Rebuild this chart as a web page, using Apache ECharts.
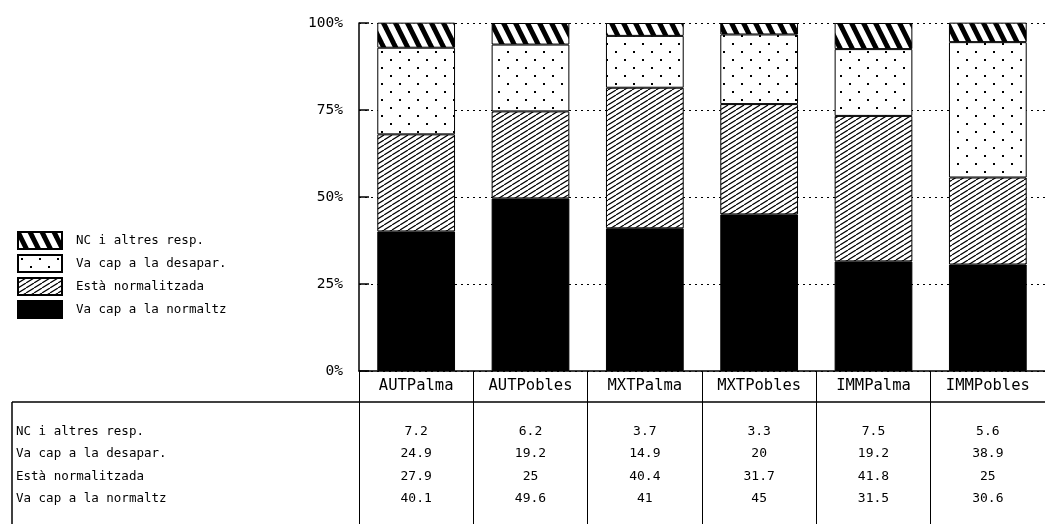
<!DOCTYPE html>
<html>
<head>
<meta charset="utf-8">
<script src="https://cdn.jsdelivr.net/npm/echarts@6/dist/echarts.min.js"></script>
<style>
  html, body { margin: 0; padding: 0; background: #fff; }
  #chart { width: 1045px; height: 524px; }
</style>
</head>
<body>
<div id="chart"></div>
<script>
// ---- data ----
var categories = ['AUTPalma', 'AUTPobles', 'MXTPalma', 'MXTPobles', 'IMMPalma', 'IMMPobles'];
var seriesNames = ['NC i altres resp.', 'Va cap a la desapar.', 'Està normalitzada', 'Va cap a la normaltz'];
var ncValues = [7.2, 6.2, 3.7, 3.3, 7.5, 5.6];
var desaparValues = [24.9, 19.2, 14.9, 20, 19.2, 38.9];
var normalitzadaValues = [27.9, 25, 40.4, 31.7, 41.8, 25];
var normaltzValues = [40.1, 49.6, 41, 45, 31.5, 30.6];
var yTickValues = [0, 25, 50, 75, 100];

var FONT = 'DejaVu Sans Mono';

// ---- fill patterns ----
function makeCanvas(w, h) {
  var c = document.createElement('canvas');
  c.width = w; c.height = h;
  var ctx = c.getContext('2d');
  ctx.fillStyle = '#fff';
  ctx.fillRect(0, 0, w, h);
  return { c: c, ctx: ctx };
}
function stripePattern() {
  var o = makeCanvas(12, 24), ctx = o.ctx;
  ctx.strokeStyle = '#000'; ctx.lineWidth = 5;
  [-12, 0, 12].forEach(function (dx) {
    ctx.beginPath(); ctx.moveTo(dx - 12, -24); ctx.lineTo(dx + 24, 48); ctx.stroke();
  });
  return o.c;
}
function hatchPattern() {
  var o = makeCanvas(8, 5), ctx = o.ctx;
  ctx.strokeStyle = '#000'; ctx.lineWidth = 1.2;
  [-8, 0, 8].forEach(function (dx) {
    ctx.beginPath(); ctx.moveTo(dx, 5); ctx.lineTo(dx + 8, 0); ctx.stroke();
  });
  return o.c;
}
function dotPattern() {
  var o = makeCanvas(18, 16), ctx = o.ctx;
  ctx.fillStyle = '#000';
  ctx.fillRect(3, 3, 2, 2);
  ctx.fillRect(12, 11, 2, 2);
  return o.c;
}

var fills = [
  { image: stripePattern(), repeat: 'repeat' },
  { image: dotPattern(), repeat: 'repeat' },
  { image: hatchPattern(), repeat: 'repeat' },
  '#000'
];
var valueLists = [ncValues, desaparValues, normalitzadaValues, normaltzValues];

// stacking order bottom -> top: normaltz, normalitzada, desapar, NC
var stackOrder = [3, 2, 1, 0];
var series = stackOrder.map(function (i) {
  return {
    name: seriesNames[i],
    type: 'bar',
    stack: 'total',
    barWidth: '68%',
    data: valueLists[i],
    itemStyle: { color: fills[i], borderColor: '#000', borderWidth: 1 },
    emphasis: { disabled: true },
    animation: false
  };
});

var chart = echarts.init(document.getElementById('chart'));
var option = {
  animation: false,
  backgroundColor: '#fff',
  grid: { left: 359, right: 0, top: 23, bottom: 153, containLabel: false },
  legend: {
    data: seriesNames.map(function (n) { return { name: n, icon: 'rect' }; }),
    orient: 'vertical',
    left: 12,
    top: 226,
    itemWidth: 44,
    itemHeight: 17,
    itemGap: 4,
    selectedMode: false,
    textStyle: { fontFamily: FONT, fontSize: 12.5, color: '#000', padding: [0, 0, 0, 9] }
  },
  xAxis: {
    type: 'category',
    data: categories,
    axisLine: { show: true, lineStyle: { color: '#000', width: 1.5 } },
    axisTick: { show: true, alignWithLabel: false, length: 153, lineStyle: { color: '#000', width: 1 } },
    axisLabel: { fontFamily: FONT, fontSize: 15.5, color: '#000', margin: 7 },
    splitLine: { show: false }
  },
  yAxis: {
    type: 'value',
    min: 0, max: 100, interval: 25,
    axisLine: { show: true, lineStyle: { color: '#000', width: 1.5 } },
    axisTick: { show: true, inside: true, length: 10, lineStyle: { color: '#000', width: 1.5 } },
    axisLabel: {
      fontFamily: FONT, fontSize: 14.5, color: '#000', margin: 16,
      formatter: function (v) { return yTickValues.indexOf(v) >= 0 ? v + '%' : ''; }
    },
    splitLine: { show: true, lineStyle: { color: '#000', type: [2, 4], width: 1.2 } }
  },
  series: series
};
chart.setOption(option);

// ---- data table below the chart ----
var rowY = [432, 454, 477, 499];
var graphics = [
  { type: 'line', shape: { x1: 12, y1: 402, x2: 1045, y2: 402 }, style: { stroke: '#000', lineWidth: 1.5 } },
  { type: 'line', shape: { x1: 12, y1: 402, x2: 12, y2: 524 }, style: { stroke: '#000', lineWidth: 1.5 } }
];
seriesNames.forEach(function (name, r) {
  graphics.push({
    type: 'text', x: 16, y: rowY[r],
    style: { text: name, fontFamily: FONT, fontSize: 12.5, fill: '#000', textVerticalAlign: 'middle', textAlign: 'left' }
  });
  valueLists[r].forEach(function (v, c) {
    var px = chart.convertToPixel({ xAxisIndex: 0 }, categories[c]);
    graphics.push({
      type: 'text', x: px, y: rowY[r],
      style: { text: String(v), fontFamily: FONT, fontSize: 13, fill: '#000', textVerticalAlign: 'middle', textAlign: 'center' }
    });
  });
});
chart.setOption({ graphic: graphics });
</script>
</body>
</html>
